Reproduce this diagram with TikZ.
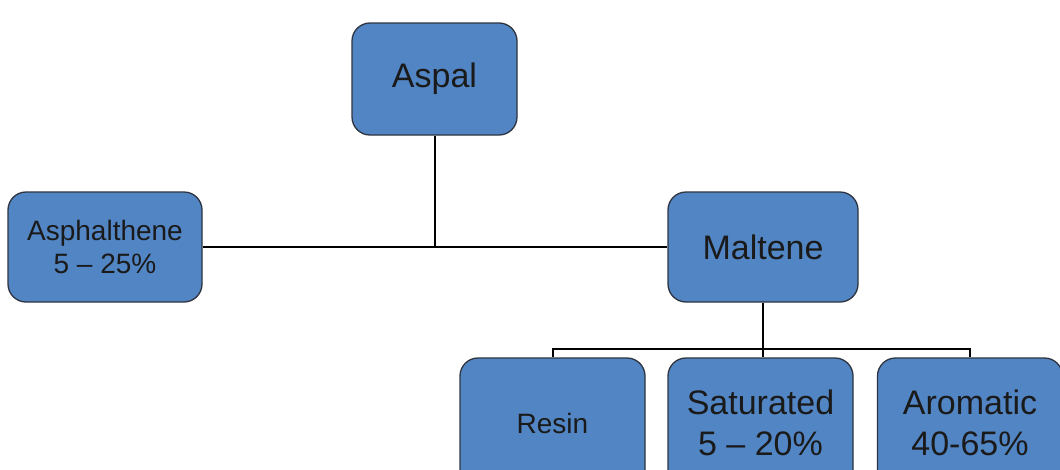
\documentclass[tikz,border=0pt]{standalone}
\usepackage{fontspec}
\setmainfont{Liberation Sans}
\definecolor{boxfill}{HTML}{5285C3}
\definecolor{boxline}{HTML}{2E3440}
\definecolor{txt}{HTML}{1A1A1A}
\begin{document}
\begin{tikzpicture}[x=1pt,y=-1pt,
  box/.style={draw=boxline,line width=1.3pt,fill=boxfill,rounded corners=18pt,
    minimum width=#1,align=center,text=txt,inner sep=0pt},
  box/.default=190pt,
  big/.style={font=\fontsize{34}{41}\selectfont},
  small/.style={font=\fontsize{28}{33}\selectfont},
  link/.style={draw=black,line width=2pt}]
\useasboundingbox (0,0) rectangle (1060,469);
\clip (0,0) rectangle (1060,469);
\fill[white] (0,0) rectangle (1060,469);
% top level
\node[box=165pt,minimum height=112pt,big] (aspal) at (434.5,79) {Aspal};
% second level
\node[box=194pt,minimum height=110pt,small] (asph) at (105,247) {Asphalthene\\5 -- 25\%};
\node[box=190pt,minimum height=110pt,big] (malt) at (763,247) {Maltene};
% third level (boxes run past the lower edge)
\node[box=185pt,minimum height=130pt,small] (resin) at (552.5,423) {Resin};
\node[box=185pt,minimum height=130pt,big] (sat) at (760.5,423) {Saturated\\5 -- 20\%};
\node[box=185pt,minimum height=130pt,big] (arom) at (970,423) {Aromatic\\40-65\%};
% connectors
\coordinate (j1) at (aspal.south |- asph.east);
\draw[link] (asph.east) -- (malt.west);
\draw[link] (aspal.south) -- (j1);
\coordinate (j2) at (763,349);
\draw[link] (malt.south) -- (j2);
\draw[link] (resin.north) -- (resin.north |- j2) -- (arom.north |- j2) -- (arom.north);
\draw[link] (j2) -- (sat.north -| j2);
\end{tikzpicture}
\end{document}
